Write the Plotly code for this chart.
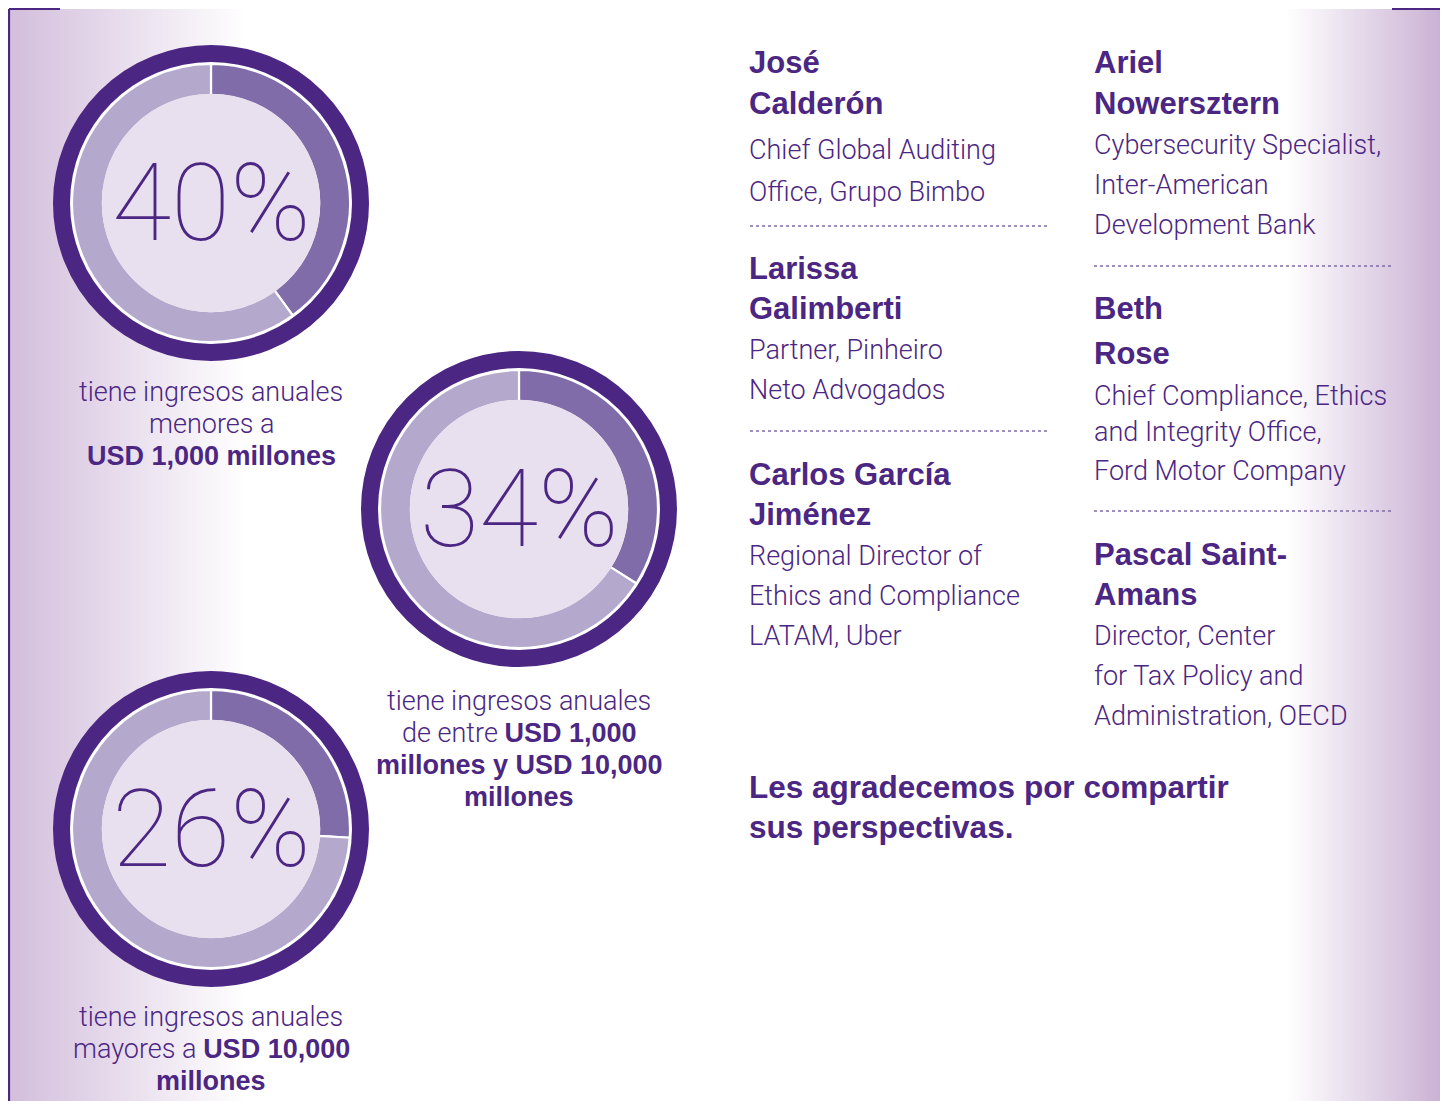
import plotly.graph_objects as go

# page is 1448x1101; the browser puts the plot div 8px in from the top-left
PAGE_W, PAGE_H = 1448, 1101
OFF = 8
FW, FH = PAGE_W - OFF, PAGE_H - OFF

# ---------------- data ----------------
pcts = [40, 34, 26]
pct_labels = ["40%", "34%", "26%"]
slice_names = ["Grupo", "Resto"]

captions = [
    ["tiene ingresos anuales", "menores a", "<b>USD 1,000 millones</b>"],
    ["tiene ingresos anuales", "de entre <b>USD 1,000</b>",
     "<b>millones y USD 10,000</b>", "<b>millones</b>"],
    ["tiene ingresos anuales", "mayores a <b>USD 10,000</b>", "<b>millones</b>"],
]

left_names = [["José", "Calderón"], ["Larissa", "Galimberti"], ["Carlos García", "Jiménez"]]
left_roles = [["Chief Global Auditing", "Office, Grupo Bimbo"],
              ["Partner, Pinheiro", "Neto Advogados"],
              ["Regional Director of", "Ethics and Compliance", "LATAM, Uber"]]
right_names = [["Ariel", "Nowersztern"], ["Beth", "Rose"], ["Pascal Saint-", "Amans"]]
right_roles = [["Cybersecurity Specialist,", "Inter-American", "Development Bank"],
               ["Chief Compliance, Ethics", "and Integrity Office,", "Ford Motor Company"],
               ["Director, Center", "for Tax Policy and", "Administration, OECD"]]
closing = ["Les agradecemos por compartir", "sus perspectivas."]

# ---------------- layout / style ----------------
DARK = "#4b2683"
MID = "#7f6ca8"
LIGHT = "#b4a8cd"
INNER = "#e8e0ee"
TEXT = "#4b2683"
BODY_FONT = "Roboto, Liberation Sans, sans-serif"
BOLD_FONT = "Liberation Sans, Arial, sans-serif"

centers = [(211, 203), (519, 509), (211, 829)]
cap_pos = [(211, [392, 424, 456]), (519, [701, 733, 765, 797]), (211, [1017, 1049, 1081])]

left_name_y = [[62, 103], [268, 308], [474, 514]]
left_role_y = [[150, 192], [350, 390], [556, 596, 636]]
right_name_y = [[62, 103], [308, 353], [554, 594]]
right_role_y = [[145, 185, 225], [396, 432, 471], [636, 676, 716]]
closing_y = [787, 827]
LX, RX = 747, 1092


def px(x):
    return (x - OFF) / FW


def py(y):
    return 1 - (y - OFF) / FH


shapes = []


def hex_to_rgb(h):
    h = h.lstrip("#")
    return tuple(int(h[i:i + 2], 16) for i in (0, 2, 4))


def blend(c1, c2, t):
    return "rgb(%d,%d,%d)" % tuple(round(a + (b - a) * t) for a, b in zip(c1, c2))


white = (255, 255, 255)
left_col = hex_to_rgb("#d3bedc")
right_col = hex_to_rgb("#c9b0d3")

step = 3
# left gradient
x0g, x1g = 9, 245
x = x0g
while x < x1g:
    t = (x - x0g) / (x1g - x0g)
    shapes.append(dict(type="rect", xref="paper", yref="paper", layer="below",
                       x0=px(x), x1=px(min(x + step + 1, x1g)), y0=py(PAGE_H), y1=py(9),
                       fillcolor=blend(left_col, white, t), line=dict(width=0)))
    x += step
# right gradient
x0g, x1g = 1285, 1442
x = x0g
while x < x1g:
    t = (x - x0g) / (x1g - x0g)
    shapes.append(dict(type="rect", xref="paper", yref="paper", layer="below",
                       x0=px(x), x1=px(min(x + step + 1, x1g)), y0=py(PAGE_H), y1=py(9),
                       fillcolor=blend(white, right_col, t), line=dict(width=0)))
    x += step

R_OUT, RING_W, R_WHITE, R_PIE, R_HOLE = 158, 18, 141, 139, 108

for (cx, cy) in centers:
    r = R_OUT - RING_W / 2
    shapes.append(dict(type="circle", xref="paper", yref="paper", layer="below",
                       x0=px(cx - r), x1=px(cx + r), y0=py(cy + r), y1=py(cy - r),
                       line=dict(color=DARK, width=RING_W), fillcolor="rgba(0,0,0,0)"))
    shapes.append(dict(type="circle", xref="paper", yref="paper", layer="below",
                       x0=px(cx - R_WHITE), x1=px(cx + R_WHITE),
                       y0=py(cy + R_WHITE), y1=py(cy - R_WHITE),
                       line=dict(width=0), fillcolor="white"))
    # inner disc drawn above the ring so the slice outline does not show on the inner edge
    ri = R_HOLE + 1.3
    shapes.append(dict(type="circle", xref="paper", yref="paper", layer="above",
                       x0=px(cx - ri), x1=px(cx + ri), y0=py(cy + ri), y1=py(cy - ri),
                       line=dict(width=0), fillcolor=INNER))

# borders
for (xa, ya, xb, yb) in [(9, 9, 9, PAGE_H), (9, 9, 60, 9), (1392, 9, 1442, 9), (1442, 9, 1442, PAGE_H)]:
    shapes.append(dict(type="line", xref="paper", yref="paper", layer="above",
                       x0=px(xa), x1=px(xb), y0=py(ya), y1=py(yb),
                       line=dict(color=DARK, width=2.2)))

# dotted separators
for (xa, xb, yy) in [(750, 1048, 226), (750, 1048, 431), (1094, 1392, 266), (1094, 1392, 511)]:
    shapes.append(dict(type="line", xref="paper", yref="paper", layer="above",
                       x0=px(xa), x1=px(xb), y0=py(yy), y1=py(yy),
                       line=dict(color="#7f6ca8", width=1.3, dash="dot")))

fig = go.Figure()

for (cx, cy), p in zip(centers, pcts):
    fig.add_trace(go.Pie(
        values=[p, 100 - p], labels=slice_names, sort=False, direction="clockwise",
        rotation=0, hole=R_HOLE / R_PIE, textinfo="none", hoverinfo="skip",
        marker=dict(colors=[MID, LIGHT], line=dict(color="white", width=2.2)),
        domain=dict(x=[px(cx - R_PIE), px(cx + R_PIE)], y=[py(cy + R_PIE), py(cy - R_PIE)]),
        showlegend=False))

ann = []


def add_text(x, y, text, size, anchor="left", family=None, weight=None):
    font = dict(family=family or BODY_FONT, size=size, color=TEXT)
    if weight is not None:
        font["weight"] = weight
    ann.append(dict(x=px(x), y=py(y), xref="paper", yref="paper", showarrow=False,
                    text=text, xanchor=anchor, yanchor="middle", font=font))


def mixed(line):
    # regular parts in light Roboto, bold parts in Liberation Sans bold
    return line.replace("<b>", "<span style=\"font-family:'Liberation Sans';font-weight:bold\">") \
               .replace("</b>", "</span>")


# percent labels
for (cx, cy), lab in zip(centers, pct_labels):
    ann.append(dict(x=px(cx), y=py(cy), xref="paper", yref="paper", showarrow=False,
                    text=lab, xanchor="center", yanchor="middle",
                    font=dict(family="Roboto, sans-serif", size=108, color=TEXT, weight=100)))

# captions
for (cx, ys), lines in zip(cap_pos, captions):
    for yy, line in zip(ys, lines):
        add_text(cx, yy, mixed(line), 27, anchor="center", weight=300)

# people
for names, roles, ny, ry in zip(left_names, left_roles, left_name_y, left_role_y):
    for yy, t in zip(ny, names):
        add_text(LX, yy, "<b>%s</b>" % t, 31, family=BOLD_FONT)
    for yy, t in zip(ry, roles):
        add_text(LX, yy, t, 27, weight=300)
for names, roles, ny, ry in zip(right_names, right_roles, right_name_y, right_role_y):
    for yy, t in zip(ny, names):
        add_text(RX, yy, "<b>%s</b>" % t, 31, family=BOLD_FONT)
    for yy, t in zip(ry, roles):
        add_text(RX, yy, t, 27, weight=300)
for yy, t in zip(closing_y, closing):
    add_text(LX, yy, "<b>%s</b>" % t, 31.5, family=BOLD_FONT)

fig.update_layout(
    width=FW, height=FH, margin=dict(l=0, r=0, t=0, b=0),
    paper_bgcolor="white", plot_bgcolor="rgba(0,0,0,0)",
    shapes=shapes, annotations=ann, showlegend=False,
)

fig.write_html("out.html", config=dict(displayModeBar=False))
